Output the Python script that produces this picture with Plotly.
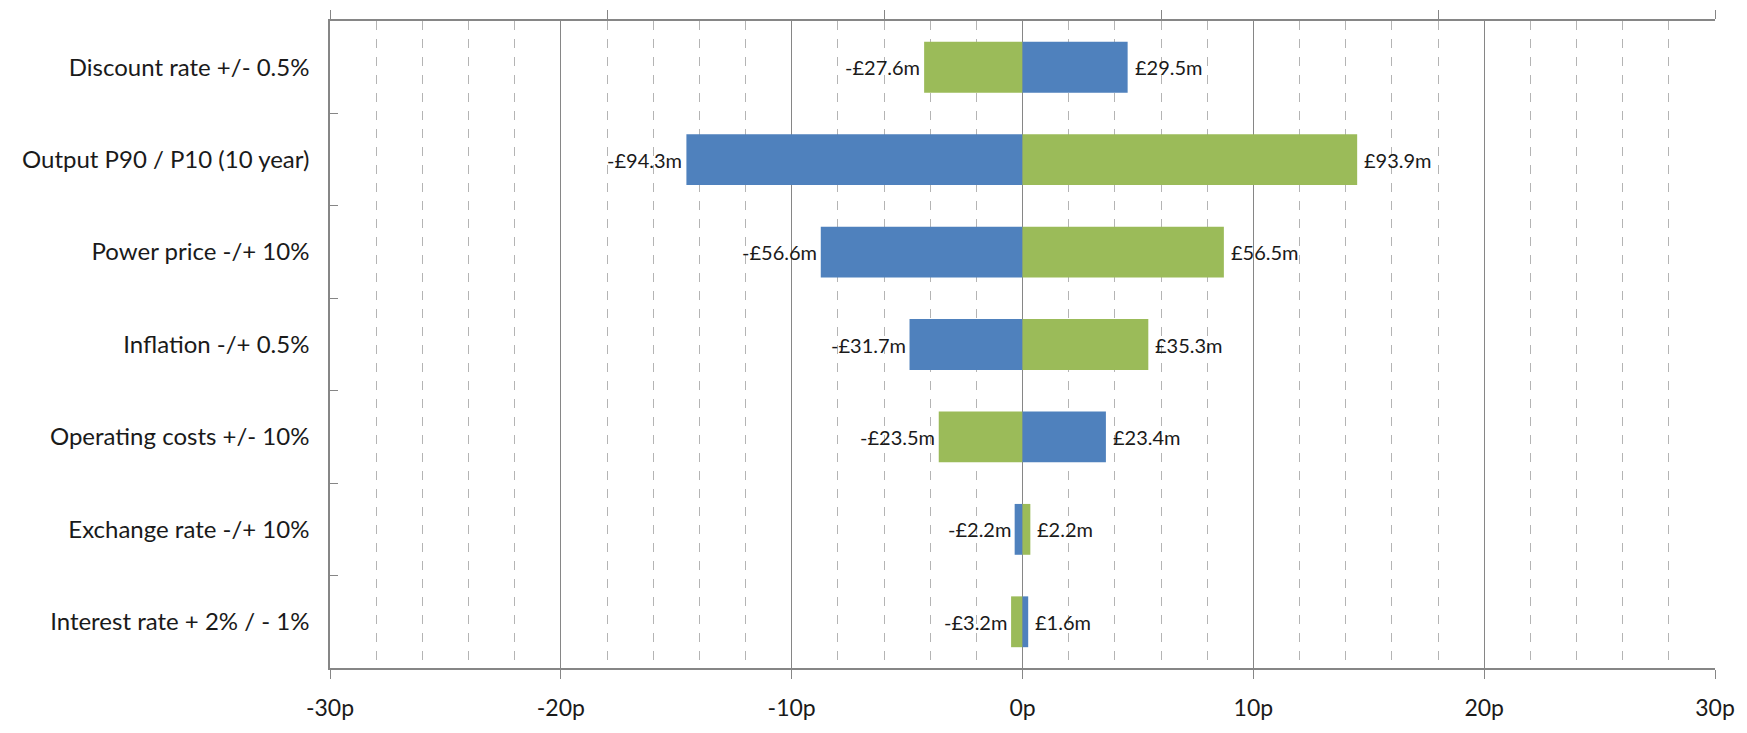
import plotly.graph_objects as go

# Sensitivity of project value to each input, in £m (downside / upside)
categories = [
    "Discount rate +/- 0.5%",
    "Output P90 / P10 (10 year)",
    "Power price -/+ 10%",
    "Inflation -/+ 0.5%",
    "Operating costs +/- 10%",
    "Exchange rate -/+ 10%",
    "Interest rate + 2% / - 1%",
]
low_m = [-27.6, -94.3, -56.6, -31.7, -23.5, -2.2, -3.2]
high_m = [29.5, 93.9, 56.5, 35.3, 23.4, 2.2, 1.6]

# Which scenario (low / high input) drives each side of the bar
low_side = ["high", "low", "low", "low", "high", "low", "high"]
high_side = ["low", "high", "high", "high", "low", "high", "low"]

# Conversion from £m of value to pence per unit of output
P_PER_M = 0.1544

x_ticks = [-30, -20, -10, 0, 10, 20, 30]
x_tick_text = ["-30p", "-20p", "-10p", "0p", "10p", "20p", "30p"]

BLUE = "#4F81BD"
GREEN = "#9BBB59"
side_color = {"low": BLUE, "high": GREEN}
AXIS = "#868686"
FONT = "Lato, Open Sans, sans-serif"
TEXT = "#1a1a1a"

low_p = [v * P_PER_M for v in low_m]
high_p = [v * P_PER_M for v in high_m]

fig = go.Figure()
fig.add_trace(go.Bar(
    y=categories, x=low_p, orientation="h",
    marker=dict(color=[side_color[s] for s in low_side], line=dict(width=0)),
    showlegend=False, hoverinfo="skip",
))
fig.add_trace(go.Bar(
    y=categories, x=high_p, orientation="h",
    marker=dict(color=[side_color[s] for s in high_side], line=dict(width=0)),
    showlegend=False, hoverinfo="skip",
))
# carrier trace for the secondary (top) axis
fig.add_trace(go.Scatter(
    x=[0, 5], y=[categories[0], categories[0]], xaxis="x2", mode="none",
    showlegend=False, hoverinfo="skip",
))

def fmt(v):
    return ("-£" if v < 0 else "£") + f"{abs(v):.1f}m"

annotations = []
for cat, lm, lp, hm, hp in zip(categories, low_m, low_p, high_m, high_p):
    annotations.append(dict(
        x=lp, y=cat, xref="x", yref="y", text=fmt(lm), showarrow=False,
        xanchor="right", xshift=-2, font=dict(family=FONT, size=20, color=TEXT),
    ))
    annotations.append(dict(
        x=hp, y=cat, xref="x", yref="y", text=fmt(hm), showarrow=False,
        xanchor="left", xshift=5, font=dict(family=FONT, size=20, color=TEXT),
    ))

fig.update_layout(
    width=1747, height=733,
    margin=dict(l=330, r=25, t=16, b=49),
    paper_bgcolor="white", plot_bgcolor="white",
    barmode="overlay", bargap=0.45,
    annotations=annotations,
    font=dict(family=FONT, color=TEXT),
    xaxis=dict(
        range=[-30, 30], tickvals=x_ticks, ticktext=x_tick_text,
        showgrid=True, gridcolor=AXIS, gridwidth=1,
        zeroline=True, zerolinecolor=AXIS, zerolinewidth=1,
        showline=True, linecolor=AXIS, linewidth=1.5,
        ticks="outside", ticklen=9, tickcolor=AXIS,
        tickfont=dict(family=FONT, size=23, color=TEXT),
        ticklabelstandoff=10,
        minor=dict(dtick=2, tick0=0, showgrid=True, gridcolor="#b4b4b4",
                   griddash="dash", gridwidth=1, ticks=""),
        fixedrange=True,
    ),
    xaxis2=dict(
        overlaying="x", side="top", range=[0, 5], dtick=1, tick0=0,
        showgrid=False, zeroline=False, showticklabels=False,
        showline=True, linecolor=AXIS, linewidth=1.5,
        ticks="outside", ticklen=9, tickcolor=AXIS,
    ),
    yaxis=dict(
        categoryorder="array", categoryarray=categories, autorange="reversed",
        showgrid=False, zeroline=False,
        showline=True, linecolor=AXIS, linewidth=1.5,
        ticks="inside", ticklen=8, tickcolor=AXIS, tickson="boundaries",
        tickfont=dict(family=FONT, size=24, color=TEXT),
        ticklabelstandoff=14,
        fixedrange=True,
    ),
)

fig.write_html("out.html")
